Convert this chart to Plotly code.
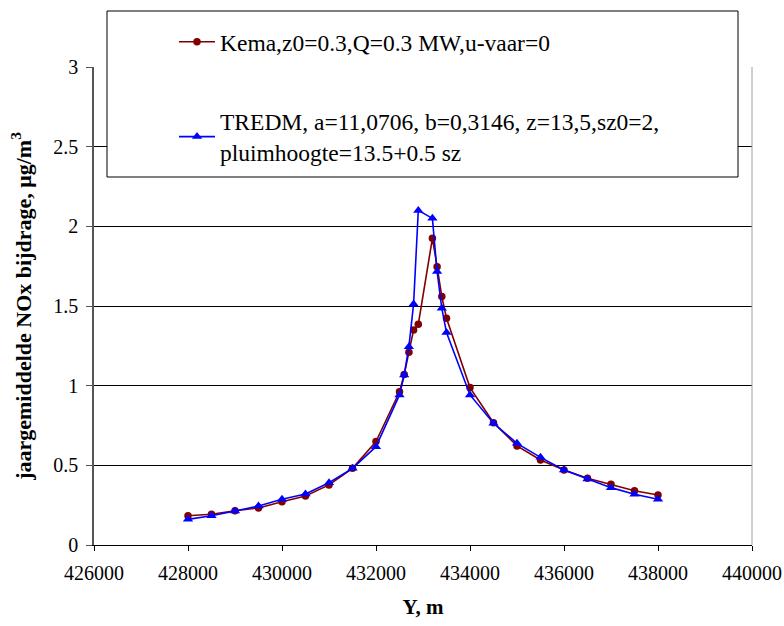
import plotly.graph_objects as go

kema_x = [428000, 428500, 429000, 429500, 430000, 430500, 431000, 431500, 432000,
          432500, 432600, 432700, 432800, 432900, 433200, 433300, 433400, 433500,
          434000, 434500, 435000, 435500, 436000, 436500, 437000, 437500, 438000]
kema_y = [0.184, 0.193, 0.215, 0.232, 0.272, 0.308, 0.377, 0.481, 0.649,
          0.962, 1.07, 1.21, 1.35, 1.385, 1.925, 1.747, 1.559, 1.423,
          0.988, 0.768, 0.622, 0.534, 0.471, 0.419, 0.381, 0.341, 0.314]

tredm_x = [428000, 428500, 429000, 429500, 430000, 430500, 431000, 431500, 432000,
           432500, 432600, 432700, 432800, 432900, 433200, 433300, 433400, 433500,
           434000, 434500, 435000, 435500, 436000, 436500, 437000, 437500, 438000]
tredm_y = [0.161, 0.184, 0.213, 0.245, 0.287, 0.320, 0.391, 0.481, 0.617,
           0.942, 1.067, 1.245, 1.513, 2.10, 2.05, 1.716, 1.486, 1.333,
           0.942, 0.764, 0.638, 0.55, 0.471, 0.414, 0.360, 0.318, 0.287]

x_ticks = [426000, 428000, 430000, 432000, 434000, 436000, 438000, 440000]
y_ticks = [0, 0.5, 1, 1.5, 2, 2.5, 3]
y_tick_text = ["0", "0.5", "1", "1.5", "2", "2.5", "3"]

FONT = "Liberation Serif, Times New Roman, serif"

fig = go.Figure()
fig.add_trace(go.Scatter(
    x=kema_x, y=kema_y, mode="lines+markers",
    name="Kema,z0=0.3,Q=0.3 MW,u-vaar=0",
    legendgroup="a",
    line=dict(color="#800000", width=1.6),
    marker=dict(symbol="circle", size=7.5, color="#800000"),
))
fig.add_trace(go.Scatter(
    x=tredm_x, y=tredm_y, mode="lines+markers",
    name="TREDM, a=11,0706, b=0,3146, z=13,5,sz0=2,<br>pluimhoogte=13.5+0.5 sz",
    legendgroup="b",
    line=dict(color="#0000FF", width=1.6),
    marker=dict(symbol="triangle-up", size=9, color="#0000FF"),
))

# legend frame
fig.add_shape(type="rect", xref="paper", yref="paper",
              x0=(107 - 94) / 658, x1=(738 - 94) / 658,
              y0=1 + (67 - 177) / 478, y1=1 + (67 - 11) / 478,
              line=dict(color="black", width=1), fillcolor="white", layer="above")
# right border
fig.add_shape(type="line", xref="paper", yref="paper", x0=1, x1=1, y0=0, y1=1,
              line=dict(color="#a0a0a0", width=1))

fig.update_layout(
    width=784, height=626,
    margin=dict(l=94, r=32, t=67, b=81),
    paper_bgcolor="white", plot_bgcolor="white",
    font=dict(family=FONT, size=20, color="black"),
    showlegend=True,
    legend=dict(
        x=(174 - 94) / 658, y=1 + (67 - 20) / 478, xanchor="left", yanchor="top",
        bgcolor="rgba(0,0,0,0)", borderwidth=0,
        font=dict(family=FONT, size=23.5, color="black"),
        tracegroupgap=46, traceorder="grouped", itemwidth=36,
    ),
    xaxis=dict(
        range=[426000, 440000], tickvals=x_ticks, ticktext=[str(v) for v in x_ticks],
        automargin=False,
        showgrid=False, zeroline=False, showline=True, linecolor="black", linewidth=1,
        ticks="outside", ticklen=5, tickcolor="black", ticklabelstandoff=5,
        tickfont=dict(family=FONT, size=20),
        title=dict(text="<b>Y, m</b>", font=dict(family=FONT, size=21), standoff=16),
    ),
    yaxis=dict(
        range=[0, 3], tickvals=y_ticks, ticktext=y_tick_text,
        automargin=False,
        showgrid=True, gridcolor="black", gridwidth=1, zeroline=False,
        showline=True, linecolor="#555555", linewidth=1.5,
        ticks="outside", ticklen=6, tickcolor="#555555", ticklabelstandoff=4,
        tickfont=dict(family=FONT, size=20),
        title=dict(text="<b>jaargemiddelde NOx bijdrage, μg/m<sup>3</sup></b>",
                   font=dict(family=FONT, size=22), standoff=16),
    ),
)

fig.write_html("out.html")
